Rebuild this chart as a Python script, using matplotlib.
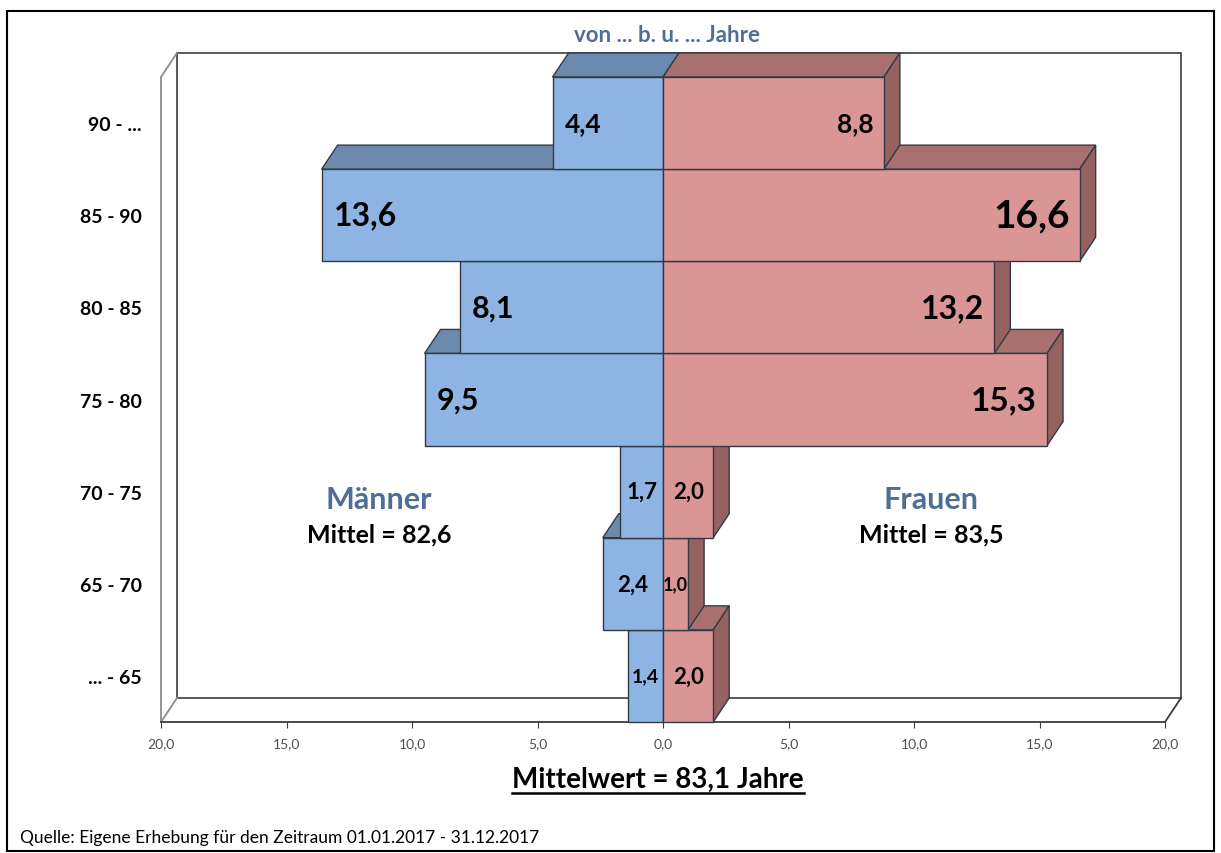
import matplotlib
matplotlib.use("Agg")
import matplotlib.pyplot as plt
from matplotlib.patches import Polygon, Rectangle
from matplotlib.lines import Line2D

# Daten: Sterbealter nach Altersgruppe (Anteile in %)
age_groups = ["... - 65", "65 - 70", "70 - 75", "75 - 80", "80 - 85", "85 - 90", "90 - ..."]
men = [1.4, 2.4, 1.7, 9.5, 8.1, 13.6, 4.4]
women = [2.0, 1.0, 2.0, 15.3, 13.2, 16.6, 8.8]
x_ticks = [-20, -15, -10, -5, 0, 5, 10, 15, 20]

# Schriftgroessen der Werte (wie im Original unterschiedlich)
men_fs = [14, 16, 16, 22, 22, 23, 19]
women_fs = [16, 13, 16, 24, 23, 28, 19]

plt.rcParams['font.family'] = ['Lato', 'DejaVu Sans']

W, H = 1221, 854
fig = plt.figure(figsize=(W / 100, H / 100), dpi=100)
ax = fig.add_axes([161 / W, 1 - 723 / H, 1004 / W, 645 / H])
ax.set_xlim(-20, 20)
ax.set_ylim(-0.5, len(age_groups) - 0.5)
for s in ax.spines.values():
    s.set_visible(False)

# Tiefe des 3D-Effekts in Datenkoordinaten
dx = 16 / (1004 / 40)
dy = 24 / (645 / len(age_groups))
top = len(age_groups) - 0.5
bot = -0.5

# Waende und Boden
wall = '#8c8c8c'
floor = '#3c3c3c'
ax.add_patch(Rectangle((-20 + dx, bot + dy), 40, top - bot, fill=False, ec=floor, lw=1.2, clip_on=False, zorder=0))
for xs, ys, c in [
    ([-20, -20], [bot, top], wall),
    ([-20, -20 + dx], [top, top + dy], wall),
    ([-20, -20 + dx], [bot, bot + dy], wall),
    ([20, 20 + dx], [bot, bot + dy], floor),
    ([-20, 20], [bot, bot], floor),
]:
    ax.add_line(Line2D(xs, ys, color=c, lw=1.3, clip_on=False, zorder=0))

m_front, m_top = '#8DB4E2', '#6C89AE'
f_front, f_top, f_side = '#D99694', '#A8716F', '#94625F'
edge = '#333a44'

z = 1
for i, (m, f) in enumerate(zip(men, women)):
    y0, y1 = i - 0.5, i + 0.5
    # Maenner
    ax.add_patch(Polygon([(-m, y1), (0, y1), (dx, y1 + dy), (-m + dx, y1 + dy)],
                         fc=m_top, ec=edge, lw=1, clip_on=False, zorder=z))
    ax.add_patch(Rectangle((-m, y0), m, 1, fc=m_front, ec=edge, lw=1, clip_on=False, zorder=z + 1))
    # Frauen
    ax.add_patch(Polygon([(0, y1), (f, y1), (f + dx, y1 + dy), (dx, y1 + dy)],
                         fc=f_top, ec=edge, lw=1, clip_on=False, zorder=z + 2))
    ax.add_patch(Polygon([(f, y0), (f + dx, y0 + dy), (f + dx, y1 + dy), (f, y1)],
                         fc=f_side, ec=edge, lw=1, clip_on=False, zorder=z + 2))
    ax.add_patch(Rectangle((0, y0), f, 1, fc=f_front, ec=edge, lw=1, clip_on=False, zorder=z + 3))
    # Beschriftung
    ml = f"{m:.1f}".replace('.', ',')
    fl = f"{f:.1f}".replace('.', ',')
    if m >= 4:
        ax.text(-m + 0.5, i, ml, ha='left', va='center', fontsize=men_fs[i], fontweight='bold', zorder=z + 5)
    else:
        ax.text(-m / 2, i, ml, ha='center', va='center', fontsize=men_fs[i], fontweight='bold', zorder=z + 5)
    if f >= 4:
        ax.text(f - 0.4, i, fl, ha='right', va='center', fontsize=women_fs[i], fontweight='bold', zorder=z + 5)
    else:
        ax.text(f / 2, i, fl, ha='center', va='center', fontsize=women_fs[i], fontweight='bold', zorder=z + 5)
    z += 10

# Achsen
ax.set_xticks(x_ticks)
ax.set_xticklabels([f"{abs(t):.1f}".replace('.', ',') for t in x_ticks], fontsize=10, color='#505050')
ax.tick_params(axis='x', direction='out', length=4, color=floor, pad=7)
ax.set_yticks(range(len(age_groups)))
ax.set_yticklabels(age_groups, fontsize=14, fontweight='bold')
ax.tick_params(axis='y', length=0, pad=14)

# Texte
blue = '#4F6E96'
fig.text(667 / W, 1 - 36 / H, "von ... b. u. ... Jahre", ha='center', va='center', fontsize=16, fontweight='bold', color=blue)
fig.text(379 / W, 1 - 500 / H, "Männer", ha='center', va='center', fontsize=22, fontweight='bold', color=blue)
fig.text(379 / W, 1 - 535 / H, "Mittel = 82,6", ha='center', va='center', fontsize=18, fontweight='bold')
fig.text(931 / W, 1 - 500 / H, "Frauen", ha='center', va='center', fontsize=22, fontweight='bold', color=blue)
fig.text(931 / W, 1 - 535 / H, "Mittel = 83,5", ha='center', va='center', fontsize=18, fontweight='bold')
mw = fig.text(658 / W, 1 - 780 / H, "Mittelwert = 83,1 Jahre", ha='center', va='center', fontsize=20, fontweight='bold')
fig.text(20 / W, 1 - 838 / H, "Quelle: Eigene Erhebung für den Zeitraum 01.01.2017 - 31.12.2017", ha='left', va='center', fontsize=12.5)

# Unterstreichung
fig.canvas.draw()
bb = mw.get_window_extent().transformed(fig.transFigure.inverted())
fig.add_artist(Line2D([bb.x0, bb.x1], [bb.y0 - 1 / H, bb.y0 - 1 / H], color='black', lw=1.8))

# Rahmen
fig.add_artist(Rectangle((7 / W, 1 - 852 / H), 1207 / W, 840 / H, fill=False, ec='black', lw=1.5))

fig.savefig("out.png", dpi=100)
